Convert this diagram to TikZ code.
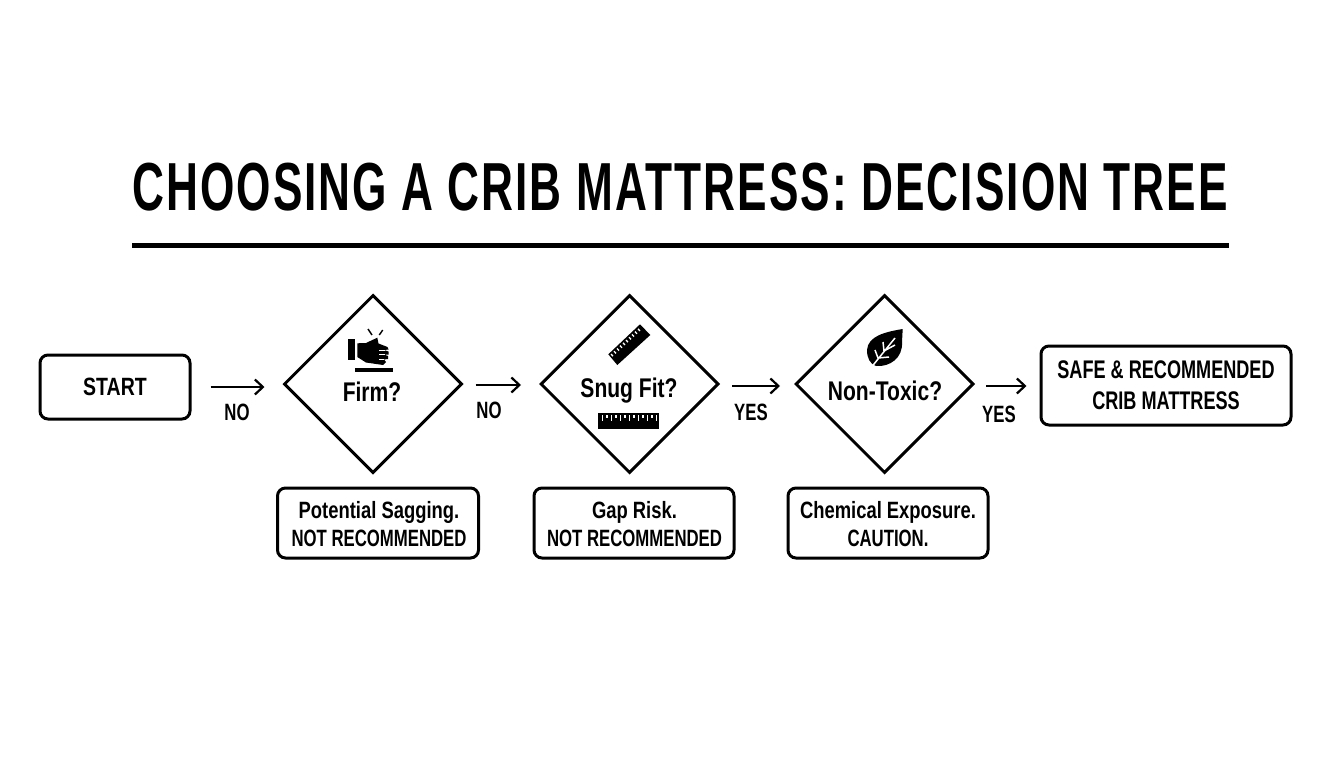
\documentclass[tikz,border=0pt]{standalone}
\usetikzlibrary{shapes.geometric,arrows.meta,calc}
\usepackage{fontspec}
\setmainfont[FakeStretch=0.78]{Liberation Sans Bold}
\newfontfamily\capsfont[FakeStretch=0.71]{Liberation Sans Bold}
\newfontfamily\titlefont[FakeStretch=0.65,LetterSpace=3]{Liberation Sans Bold}
\begin{document}
\begin{tikzpicture}[x=1pt,y=-1pt,
  box/.style={draw=black,line width=3pt,rounded corners=8pt,fill=white,inner sep=0pt},
  decision/.style={draw=black,line width=3pt,diamond,aspect=1,inner sep=0pt,minimum width=178pt,minimum height=178pt},
  ask/.style={font=\fontsize{27}{30}\selectfont,inner sep=0pt},
  lab/.style={font=\capsfont\fontsize{25.5}{31}\selectfont,align=center,inner sep=0pt},
  small/.style={font=\fontsize{23.6}{28}\selectfont,align=center,inner sep=0pt},
  caps/.style={font=\capsfont\fontsize{23.6}{28}\selectfont,align=center,inner sep=0pt},
  flow/.style={line width=2.2pt,-{Straight Barb[length=8pt,width=15pt,line width=2.2pt]}},
  ink/.style={fill=black,draw=none},
  cut/.style={draw=white,line width=1.3pt}]
\useasboundingbox (0,0) rectangle (1344,768);
\fill[white] (0,0) rectangle (1344,768);
\node[inner sep=0pt,font=\titlefont\fontsize{68}{70}\selectfont] (title) at (680,187.5) {CHOOSING A CRIB MATTRESS: DECISION TREE};
\fill[black] (132,242.5) rectangle (1229,248);
\node[box,minimum width=150pt,minimum height=64pt] (start) at (115,387) {};
\node[lab,font=\fontsize{25}{30}\selectfont] (starttxt) at (115,387) {START};
\node[decision] (d1) at (373,384) {};
\node[decision] (d2) at (629.5,384) {};
\node[decision] (d3) at (884.5,384) {};
\node[box,minimum width=250pt,minimum height=79pt] (end) at (1166,385.5) {};
\node[lab] (endtxt) at (1166,385.5) {SAFE \& RECOMMENDED\\CRIB MATTRESS};
\node[ask] (t1) at (372,392) {Firm?};
\node[ask] (t2) at (629,391) {Snug Fit?};
\node[ask] (t3) at (885,391) {Non-Toxic?};
\node[box,minimum width=201pt,minimum height=70pt] (r1) at (378,523) {};
\node[box,minimum width=200pt,minimum height=70pt] (r2) at (634,523) {};
\node[box,minimum width=200pt,minimum height=70pt] (r3) at (888,523) {};
\node[small] at (379,524) {Potential Sagging.\\{\capsfont NOT RECOMMENDED}};
\node[small] at (634.5,524) {Gap Risk.\\{\capsfont NOT RECOMMENDED}};
\node[small] at (888,524) {Chemical Exposure.\\{\capsfont CAUTION.}};
\draw[flow,shorten <=19pt,shorten >=18pt] (start.east) -- (start.east -| d1.west);
\draw[flow,shorten <=12pt,shorten >=18pt] ([yshift=-1pt]d1.east) -- ([yshift=-1pt]d2.west);
\draw[flow,shorten <=12pt,shorten >=14pt] ([yshift=-2pt]d2.east) -- ([yshift=-2pt]d3.west);
\draw[flow,shorten <=11pt,shorten >=13pt] ([yshift=-2pt]d3.east) -- ([yshift=-2pt]d3.east -| end.west);
\node[caps] at (237,412) {NO};
\node[caps] at (489,410) {NO};
\node[caps] at (751,412) {YES};
\node[caps] at (999,414) {YES};
% hand icon
\fill[ink] (347.7,339) rectangle (355,360);
\fill[ink] (357.3,343.3) -- (366,343) -- (377.3,337.7) -- (378.5,343.5) -- (387.5,347) -- (388.5,349.5) -- (384,350) -- (388.5,351.5) -- (388.5,354.5) -- (384,354.5) -- (388,356) -- (388,359) -- (384,359.5) -- (386,362) -- (383,365) -- (366,362.5) -- (357.3,357) -- cycle;
\draw[cut,line width=0.8pt] (379,350) -- (385,350) (379,354.5) -- (385,354.5) (379,359.5) -- (384,359.5);
\fill[ink] (355,367.7) rectangle (393.3,371.5);
\draw[line width=1.4pt] (368,329) -- (372,335) (382.7,330) -- (379.3,335);
% ruler icons
\fill[ink] (608.3,354.3) -- (640,324.3) -- (650.3,335) -- (617.3,365) -- cycle;
\foreach \i in {0,...,9} {
  \draw[cut,line width=1.3pt] ($(611,354)+(\i*3,-\i*2.8)$) -- ++(2,2.2);
}
\fill[ink] (598,413) rectangle (659,429);
\foreach \i in {0,...,12} {
  \pgfmathsetmacro{\tip}{(mod(\i,2)==0)?421:417.5}
  \fill[white] ({601.7+\i*4.5},414.5) rectangle ({603+\i*4.5},\tip);
}
% leaf icon
\fill[ink] (902.7,329) .. controls (885,332) and (868,336) .. (867,350) .. controls (867,358) and (870,364) .. (876,366) .. controls (890,367) and (903,358) .. (902,342) -- cycle;
\draw[cut,line width=1.5pt] (872,366.5) -- (895,338)
  (878,358) -- (889,357) (878,358) -- (875,350)
  (884,351) -- (895,345) (884,351) -- (883,342);
\end{tikzpicture}
\end{document}
